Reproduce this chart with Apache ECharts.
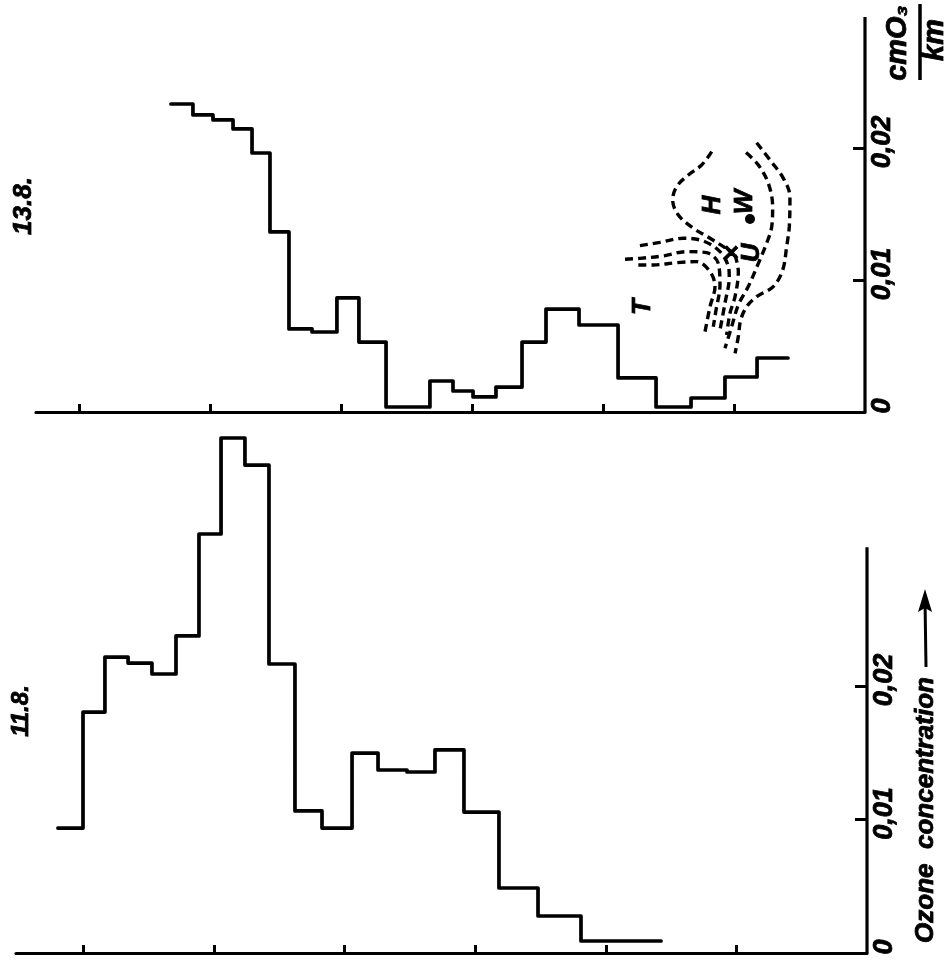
<!DOCTYPE html>
<html>
<head>
<meta charset="utf-8">
<style>html,body{margin:0;padding:0;background:#fff}#c{width:951px;height:965px}</style>
<script src="https://cdn.jsdelivr.net/npm/echarts@6/dist/echarts.min.js"></script>
</head>
<body>
<div id="c"></div>
<script>
// Upper panel (13.8.): profile class edges on the horizontal axis, ozone per class
const edges138 = [5.298,5.130,4.977,4.824,4.679,4.542,4.397,4.221,4.031,3.863,3.656,3.321,3.145,2.992,2.817,2.618,2.435,2.183,1.885,1.595,1.328,1.069,0.824,0.588];
const ozone138 = [0.02333,0.02250,0.02212,0.02144,0.01962,0.01364,0.00629,0.00606,0.00864,0.00530,0.00038,0.00235,0.00159,0.00114,0.00189,0.00530,0.00780,0.00659,0.00258,0.00038,0.00106,0.00265,0.00409];
// Lower panel (11.8.)
const edges118 = [6.195,6.003,5.835,5.658,5.475,5.291,5.115,4.946,4.763,4.579,4.380,4.173,3.943,3.744,3.522,3.308,3.086,2.818,2.519,2.190,1.577];
const ozone118 = [0.00936,0.01805,0.02217,0.02172,0.02090,0.02375,0.03139,0.03858,0.03655,0.02165,0.01064,0.00936,0.01498,0.01371,0.01356,0.01521,0.01056,0.00487,0.00277,0.00090];
// Axis contents
const xTicks = [1,2,3,4,5,6];
const yTicks = [0.01,0.02];
const yLabels = [0,0.01,0.02];
const yLabelText = {0:'0',0.01:'0,01',0.02:'0,02'};
const spineTop138 = 0.02992, spineTop118 = 0.03040;
const panelTitles = ['13.8.','11.8.'];
const unitTop = 'cmO₃', unitBottom = 'km', axisTitle = 'Ozone  concentration';
// Inset weather sketch on the upper panel, dashed isolines in axis units
const isoA = [[1.170,0.01972],[1.247,0.01871],[1.349,0.01795],[1.438,0.01707],[1.468,0.01606],[1.425,0.01492],[1.310,0.01392],[1.183,0.01316],[1.081,0.01253],[1.005,0.01202]];
const isoB = [[0.908,0.01965],[0.814,0.01871],[0.738,0.01732],[0.705,0.01556],[0.712,0.01404],[0.751,0.01278],[0.814,0.01126],[0.891,0.00950],[0.967,0.00811],[1.018,0.00646],[1.069,0.00482]];
const isoC = [[0.827,0.02040],[0.725,0.01909],[0.623,0.01770],[0.573,0.01631],[0.578,0.01404],[0.598,0.01253],[0.628,0.01076],[0.700,0.00950],[0.827,0.00874],[0.903,0.00798],[0.949,0.00697],[0.967,0.00571],[0.992,0.00444]];
const isoD = [[1.718,0.01260],[1.565,0.01285],[1.387,0.01316],[1.234,0.01295],[1.107,0.01215],[1.043,0.01101],[1.036,0.01025],[1.069,0.00823],[1.107,0.00621]];
const isoE = [[1.832,0.01157],[1.718,0.01164],[1.540,0.01182],[1.361,0.01215],[1.209,0.01207],[1.120,0.01126],[1.107,0.00962],[1.137,0.00773],[1.158,0.00646]];
const isoF = [[1.730,0.01114],[1.616,0.01114],[1.438,0.01131],[1.285,0.01139],[1.183,0.01063],[1.145,0.00950],[1.183,0.00798],[1.221,0.00609]];
const isoG = [[0.992,0.01189],[0.967,0.01063],[0.992,0.00874],[1.031,0.00747],[1.056,0.00583]];
const insetLabels = [[1.695,0.00795,'T'],[1.160,0.01568,'H'],[0.916,0.01591,'W'],[0.863,0.01205,'U'],[1.008,0.01205,'×']];
const stationDot = [[0.878,0.01462]];

const INK = '#000';
const FONT = '"Liberation Sans", Arial, sans-serif';

function steps(e, v) {
  const out = [];
  v.forEach((y, i) => { out.push([e[i], y], [e[i + 1], y]); });
  return out;
}
function stepSeries(name, idx, e, v) {
  return { name, type: 'line', xAxisIndex: idx, yAxisIndex: idx, data: steps(e, v), symbol: 'none', clip: false,
    lineStyle: { color: INK, width: 3.7, cap: 'round', join: 'round' } };
}
function spine(idx, top) {
  return { name: 'axis' + idx, type: 'line', xAxisIndex: idx, yAxisIndex: idx, data: [[0, 0], [0, top]], symbol: 'none', clip: false, silent: true,
    lineStyle: { color: INK, width: 3.2 } };
}
function iso(name, data) {
  return { name, type: 'line', xAxisIndex: 0, yAxisIndex: 0, data, smooth: 0.35, symbol: 'none',
    lineStyle: { color: INK, width: 3.4, type: [8, 5], cap: 'butt' } };
}
function xAxis(idx, max) {
  return { type: 'value', gridIndex: idx, inverse: true, min: 0, max, position: 'bottom',
    axisLine: { show: true, onZero: false, lineStyle: { color: INK, width: 3.2 } },
    axisTick: { show: true, inside: true, length: 8, customValues: xTicks, lineStyle: { color: INK, width: 3 } },
    axisLabel: { show: false }, splitLine: { show: false } };
}
function yAxis(idx, max) {
  return { type: 'value', gridIndex: idx, min: 0, max, position: 'right',
    axisLine: { show: false },
    axisTick: { show: true, inside: true, length: 12, customValues: yTicks, lineStyle: { color: INK, width: 3 } },
    axisLabel: { show: true, customValues: yLabels, rotate: 90, margin: 4, padding: [0, 0, 0, 12],
      formatter: v => yLabelText[v], color: INK, textBorderColor: INK, textBorderWidth: 0.8,
      fontFamily: FONT, fontStyle: 'italic', fontWeight: 'bold', fontSize: 27 },
    splitLine: { show: false } };
}
function rotText(x, y, text, size) {
  return { type: 'text', x, y, rotation: Math.PI / 2, silent: true,
    style: { text, fill: INK, stroke: INK, lineWidth: 0.8, align: 'center', verticalAlign: 'middle',
      font: 'italic bold ' + size + 'px ' + FONT } };
}

const chart = echarts.init(document.getElementById('c'), null, { renderer: 'canvas' });
chart.setOption({
  animation: false,
  backgroundColor: '#fff',
  grid: [
    { left: 36, top: 17, width: 829, height: 395 },
    { left: 16, top: 430, width: 851, height: 523 }
  ],
  xAxis: [xAxis(0, 6.328), xAxis(1, 6.516)],
  yAxis: [yAxis(0, 0.02992), yAxis(1, 0.03918)],
  series: [
    stepSeries('13.8.', 0, edges138, ozone138),
    stepSeries('11.8.', 1, edges118, ozone118),
    spine(0, spineTop138),
    spine(1, spineTop118),
    iso('isoA', isoA), iso('isoB', isoB), iso('isoC', isoC), iso('isoD', isoD), iso('isoE', isoE), iso('isoF', isoF), iso('isoG', isoG),
    { name: 'labels', type: 'scatter', xAxisIndex: 0, yAxisIndex: 0, data: insetLabels, symbolSize: 1,
      itemStyle: { color: 'rgba(0,0,0,0)', opacity: 1 },
      label: { show: true, position: 'inside', rotate: 90, formatter: p => p.data[2], color: INK,
        textBorderColor: INK, textBorderWidth: 0.8,
        fontFamily: FONT, fontStyle: 'italic', fontWeight: 'bold', fontSize: 26 } },
    { name: 'station', type: 'scatter', xAxisIndex: 0, yAxisIndex: 0, data: stationDot, symbolSize: 10, itemStyle: { color: INK, opacity: 1 } }
  ],
  graphic: [
    rotText(24, 206, panelTitles[0], 26),
    rotText(21, 711, panelTitles[1], 24),
    rotText(898, 43, unitTop, 29),
    rotText(935, 40, unitBottom, 29),
    { type: 'line', silent: true, shape: { x1: 920, y1: 4, x2: 920, y2: 80 }, style: { stroke: INK, lineWidth: 3.5 } },
    rotText(926, 810, axisTitle, 26),
    { type: 'line', silent: true, shape: { x1: 926, y1: 667, x2: 925, y2: 600 }, style: { stroke: INK, lineWidth: 3 } },
    { type: 'polygon', silent: true, shape: { points: [[925, 589], [918, 612], [925, 608], [932, 612]] }, style: { fill: INK } }
  ]
});
</script>
</body>
</html>
